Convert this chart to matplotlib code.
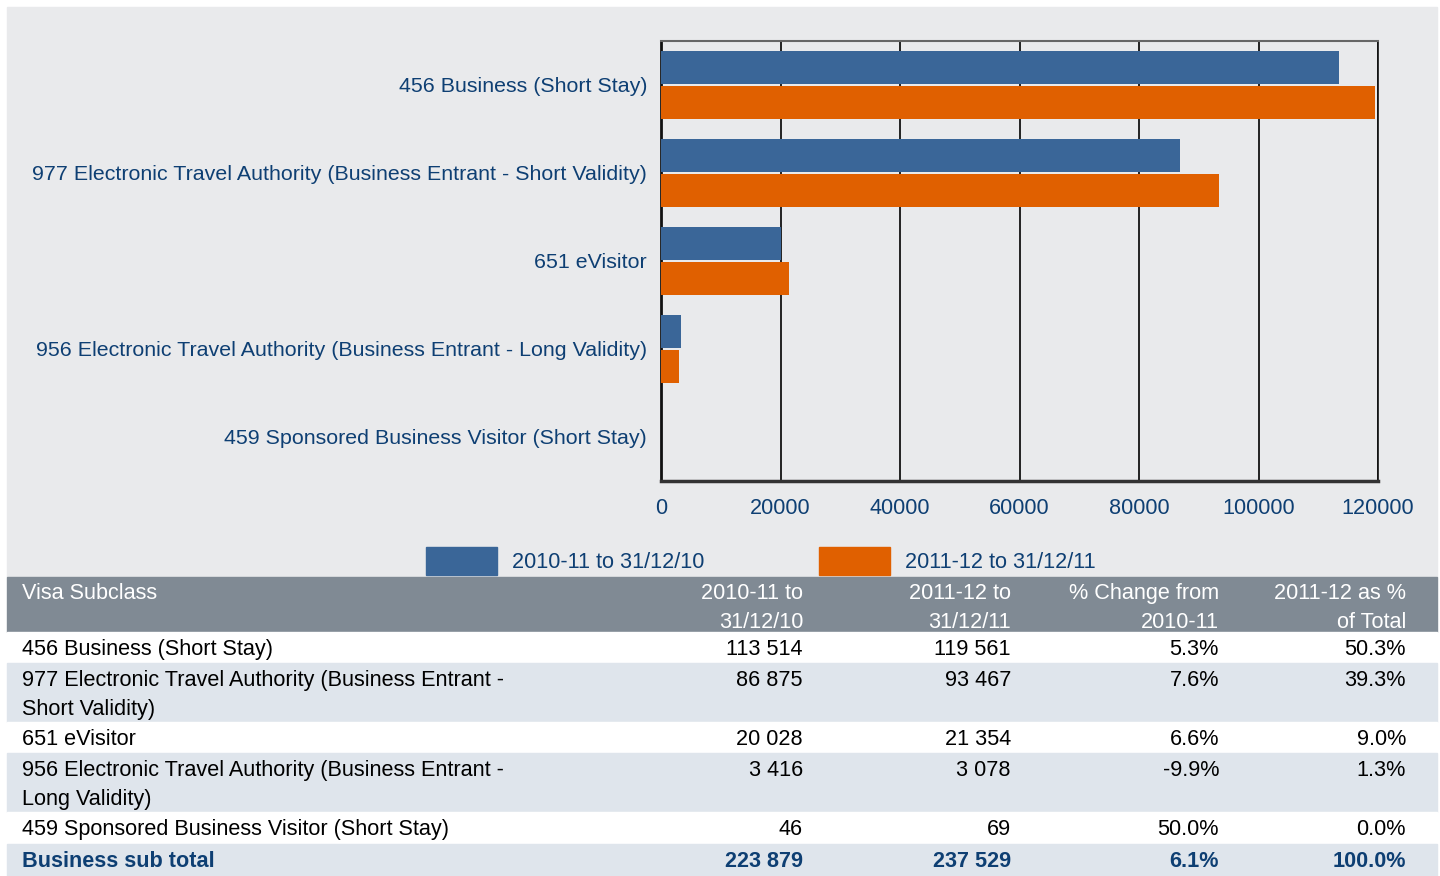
import matplotlib.pyplot as plt
from matplotlib.patches import Rectangle, Patch
import numpy as np

plt.rcParams['font.family'] = ['Liberation Sans', 'DejaVu Sans']

# дані
categories = [
    "456 Business (Short Stay)",
    "977 Electronic Travel Authority (Business Entrant - Short Validity)",
    "651 eVisitor",
    "956 Electronic Travel Authority (Business Entrant - Long Validity)",
    "459 Sponsored Business Visitor (Short Stay)",
]
table_names = [
    "456 Business (Short Stay)",
    "977 Electronic Travel Authority (Business Entrant -\nShort Validity)",
    "651 eVisitor",
    "956 Electronic Travel Authority (Business Entrant -\nLong Validity)",
    "459 Sponsored Business Visitor (Short Stay)",
]
values_2010 = [113514, 86875, 20028, 3416, 46]
values_2011 = [119561, 93467, 21354, 3078, 69]
pct_change = ["5.3%", "7.6%", "6.6%", "-9.9%", "50.0%"]
pct_total = ["50.3%", "39.3%", "9.0%", "1.3%", "0.0%"]
total_row = ["Business sub total", "223 879", "237 529", "6.1%", "100.0%"]
series_labels = ["2010-11 to 31/12/10", "2011-12 to 31/12/11"]
headers = ["Visa Subclass", "2010-11 to\n31/12/10", "2011-12 to\n31/12/11",
           "% Change from\n2010-11", "2011-12 as %\nof Total"]

BLUE = '#3a6698'
ORANGE = '#e06000'
BG = '#e9eaec'
HEAD = '#808a94'
STRIPE = '#dfe5ec'
TXT_BLUE = '#0e3f73'
FS = 15.6

W, H = 1440, 876
fig = plt.figure(figsize=(W / 100, H / 100), dpi=100)


def fx(px):
    return px / W


def fy(py):
    return 1 - py / H


def band(top, bottom, color):
    fig.patches.append(Rectangle((fx(7), fy(bottom)), fx(1430), (bottom - top) / H,
                                 transform=fig.transFigure, color=color, zorder=-1))


# сірий фон
band(7, 577, BG)

ax = fig.add_axes([fx(661), fy(481), fx(1378 - 661), (481 - 41) / H])
ax.set_zorder(2)
ax.set_facecolor(BG)
y = np.arange(len(categories))
h = 0.375
ax.barh(y - h / 2 - 0.012, values_2010, height=h, color=BLUE, zorder=3)
ax.barh(y + h / 2 + 0.012, values_2011, height=h, color=ORANGE, zorder=3)
ax.set_ylim(4.5, -0.5)
ax.set_xlim(0, 120000)
ax.set_xticks(range(0, 120001, 20000))
ax.set_yticks(y)
ax.set_yticklabels(categories, color=TXT_BLUE, fontsize=15.4)
ax.tick_params(axis='x', length=0, pad=12, labelsize=FS, labelcolor=TXT_BLUE)
ax.tick_params(axis='y', length=0, pad=10)
ax.grid(axis='x', color='black', linewidth=1.2, zorder=1)
ax.spines['left'].set_linewidth(2)
ax.spines['left'].set_color('#111111')
ax.spines['bottom'].set_linewidth(2.5)
ax.spines['bottom'].set_color('#333333')
ax.spines['top'].set_color('#666666')
ax.spines['top'].set_linewidth(1.5)
ax.spines['right'].set_color('#111111')
ax.spines['right'].set_linewidth(1.2)

fig.legend(handles=[Patch(color=BLUE), Patch(color=ORANGE)], labels=series_labels,
           loc='center', bbox_to_anchor=(fx(761), fy(561)), ncol=2, frameon=False,
           fontsize=FS, labelcolor=TXT_BLUE, handlelength=3.27, handleheight=1.6,
           handletextpad=0.7, columnspacing=5.3, borderaxespad=0)

# таблиця
band(577, 632, HEAD)
row_bounds = [(632, 663), (663, 722), (722, 753), (753, 812), (812, 844), (844, 876)]
for i, (t, b) in enumerate(row_bounds):
    band(t, b, 'white' if i % 2 == 0 else STRIPE)

col_x = [22, 803, 1011, 1219, 1406]
LS = 1.5
for j, hd in enumerate(headers):
    fig.text(fx(col_x[j]), fy(583), hd, color='white', fontsize=FS,
             ha='left' if j == 0 else 'right', va='top', linespacing=LS)

for i in range(len(table_names)):
    cells = [table_names[i], f"{values_2010[i]:,}".replace(',', ' '),
             f"{values_2011[i]:,}".replace(',', ' '), pct_change[i], pct_total[i]]
    ty = row_bounds[i][0] + 7
    for j, c in enumerate(cells):
        fig.text(fx(col_x[j]), fy(ty), c, color='black', fontsize=FS,
                 ha='left' if j == 0 else 'right', va='top', linespacing=LS)

for j, c in enumerate(total_row):
    fig.text(fx(col_x[j]), fy(row_bounds[5][0] + 7), c, color=TXT_BLUE, fontsize=FS,
             fontweight='bold', ha='left' if j == 0 else 'right', va='top')

fig.savefig('out.png', dpi=100)
